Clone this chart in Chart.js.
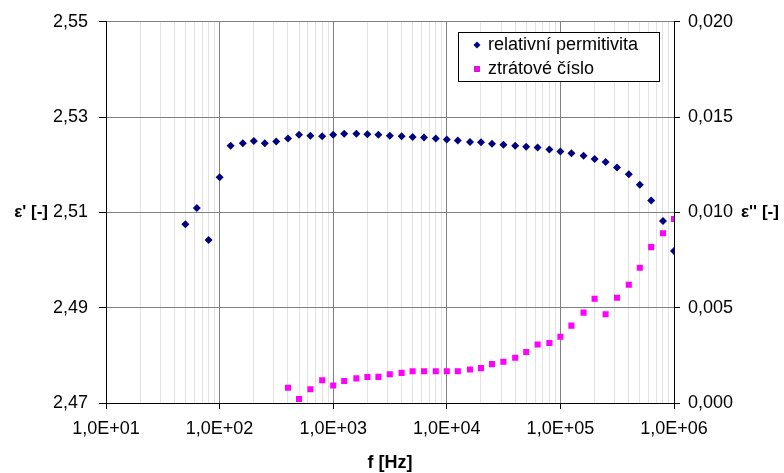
<!DOCTYPE html>
<html>
<head>
    <title>Permitivita</title>
    <script src="https://cdn.jsdelivr.net/npm/chart.js@4.4.0/dist/chart.umd.min.js"></script>
    <style>
        body { margin: 0; background: #ffffff; }
        canvas { display: block; }
    </style>
</head>
<body>
<canvas id="permChart" width="784" height="473"></canvas>
<script>
    // frekvence [Hz]
    const freq = [50, 63, 80,
        100, 125, 160, 200, 250, 315, 400, 500, 630, 800,
        1000, 1250, 1600, 2000, 2500, 3150, 4000, 5000, 6300, 8000,
        10000, 12500, 16000, 20000, 25000, 31500, 40000, 50000, 63000, 80000,
        100000, 125000, 160000, 200000, 250000, 315000, 400000, 500000, 630000, 800000,
        1000000];

    // relativni permitivita eps'
    const permitivita = [2.5075, 2.5109, 2.5042,
        2.5174, 2.5240, 2.5245, 2.5250, 2.5245, 2.5249, 2.5255, 2.5263, 2.5261, 2.5260,
        2.5263, 2.5265, 2.5265, 2.5264, 2.5263, 2.5261, 2.5260, 2.5258, 2.5257, 2.5255,
        2.5253, 2.5251, 2.5248, 2.5247, 2.5244, 2.5242, 2.5240, 2.5238, 2.5236, 2.5232,
        2.5228, 2.5224, 2.5219, 2.5212, 2.5206, 2.5194, 2.5180, 2.5158, 2.5125, 2.5082,
        2.5019];

    // ztratove cislo eps'' (mereno az od 400 Hz)
    const lossFreq = [400, 500, 630, 800,
        1000, 1250, 1600, 2000, 2500, 3150, 4000, 5000, 6300, 8000,
        10000, 12500, 16000, 20000, 25000, 31500, 40000, 50000, 63000, 80000,
        100000, 125000, 160000, 200000, 250000, 315000, 400000, 500000, 630000, 800000,
        1000000];
    const ztratoveCislo = [0.00080, 0.00021, 0.00072, 0.00119,
        0.00092, 0.00115, 0.00129, 0.00136, 0.00137, 0.00151, 0.00158, 0.00167, 0.00167, 0.00167,
        0.00167, 0.00167, 0.00176, 0.00183, 0.00204, 0.00216, 0.00237, 0.00268, 0.00307, 0.00315,
        0.00348, 0.00406, 0.00474, 0.00547, 0.00466, 0.00552, 0.00620, 0.00710, 0.00818, 0.00891,
        0.00965];

    // osy
    const xDecades = [10, 100, 1000, 10000, 100000, 1000000];
    const xTickLabels = ['1,0E+01', '1,0E+02', '1,0E+03', '1,0E+04', '1,0E+05', '1,0E+06'];
    const yLeftTicks = [2.47, 2.49, 2.51, 2.53, 2.55];
    const yLeftLabels = ['2,47', '2,49', '2,51', '2,53', '2,55'];
    const yRightTicks = [0, 0.005, 0.010, 0.015, 0.020];
    const yRightLabels = ['0,000', '0,005', '0,010', '0,015', '0,020'];

    const FONT = 'Liberation Sans, Arial, sans-serif';

    function isDecade(v) {
        return xDecades.some(d => Math.abs(v - d) < d * 1e-6);
    }

    // popisky os + legenda uvnitr grafu
    const extrasPlugin = {
        id: 'extras',
        afterDraw(chart) {
            const c = chart.ctx;
            c.save();
            c.fillStyle = '#000';
            c.font = 'bold 17px ' + FONT;
            c.textBaseline = 'middle';
            c.textAlign = 'right';
            c.fillText("ε' [-]", 48, 212);
            c.textAlign = 'left';
            c.fillText("ε'' [-]", 741, 212);
            c.font = 'bold 18px ' + FONT;
            c.textAlign = 'center';
            c.fillText('f [Hz]', 390, 463);

            // legenda
            c.fillStyle = '#fff';
            c.fillRect(458.5, 32.5, 201, 49);
            c.strokeStyle = '#000';
            c.lineWidth = 1;
            c.strokeRect(458.5, 32.5, 201, 49);
            c.font = '18px ' + FONT;
            c.textAlign = 'left';
            chart.data.datasets.forEach((ds, i) => {
                const y = 45 + i * 24;
                Chart.helpers.drawPoint(c, {
                    pointStyle: ds.pointStyle,
                    radius: ds.pointRadius - 0.5,
                    borderWidth: 0,
                    rotation: 0
                }, 477, y);
                c.fillStyle = ds.backgroundColor;
                c.fill();
                c.fillStyle = '#000';
                c.fillText(ds.label, 488, y);
            });
            c.restore();
        }
    };

    let ctx = document.getElementById('permChart').getContext('2d');

    let chart = new Chart(ctx, {
        type: 'scatter',
        data: {
            datasets: [{
                label: 'relativní permitivita',
                data: freq.map((f, i) => ({x: f, y: permitivita[i]})),
                yAxisID: 'y1',
                pointStyle: 'rectRot',
                pointRadius: 4,
                borderWidth: 0,
                backgroundColor: '#000080',
                borderColor: '#000080'
            }, {
                label: 'ztrátové číslo',
                data: lossFreq.map((f, i) => ({x: f, y: ztratoveCislo[i]})),
                yAxisID: 'y2',
                pointStyle: 'rect',
                pointRadius: 4.3,
                borderWidth: 0,
                backgroundColor: '#ff00ff',
                borderColor: '#ff00ff'
            }]
        },
        options: {
            responsive: false,
            animation: false,
            events: [],
            layout: {
                padding: {top: 20, left: 0, right: 0, bottom: 0}
            },
            plugins: {
                legend: {display: false},
                tooltip: {enabled: false}
            },
            scales: {
                x: {
                    type: 'logarithmic',
                    min: 10,
                    max: 1000000,
                    afterBuildTicks: scale => {
                        let t = [];
                        xDecades.forEach((d, i) => {
                            t.push({value: d, major: true});
                            if (i < xDecades.length - 1) {
                                for (let m = 2; m < 10; m++) t.push({value: m * d, major: false});
                            }
                        });
                        scale.ticks = t;
                    },
                    afterFit: scale => { scale.height = 70; },
                    ticks: {
                        autoSkip: false,
                        maxRotation: 0,
                        padding: 9,
                        color: '#000',
                        font: {family: FONT, size: 18},
                        callback: function (value) {
                            let i = xDecades.findIndex(d => Math.abs(value - d) < d * 1e-6);
                            return i >= 0 ? xTickLabels[i] : '';
                        }
                    },
                    grid: {
                        color: c => (c.tick && isDecade(c.tick.value)) ? '#808080' : '#e2e2e2',
                        tickColor: c => (c.tick && isDecade(c.tick.value)) ? '#000' : 'rgba(0,0,0,0)',
                        tickLength: 6
                    },
                    border: {color: '#000', width: 1}
                },
                y1: {
                    type: 'linear',
                    position: 'left',
                    min: 2.47,
                    max: 2.55,
                    afterBuildTicks: scale => {
                        scale.ticks = yLeftTicks.map(v => ({value: v}));
                    },
                    afterFit: scale => { scale.width = 106; },
                    ticks: {
                        padding: 11,
                        color: '#000',
                        font: {family: FONT, size: 18},
                        callback: function (value) {
                            let i = yLeftTicks.findIndex(v => Math.abs(v - value) < 1e-6);
                            return i >= 0 ? yLeftLabels[i] : '';
                        }
                    },
                    grid: {
                        color: '#808080',
                        tickColor: '#000',
                        tickLength: 7
                    },
                    border: {color: '#000', width: 1}
                },
                y2: {
                    type: 'linear',
                    position: 'right',
                    min: 0,
                    max: 0.02,
                    afterBuildTicks: scale => {
                        scale.ticks = yRightTicks.map(v => ({value: v}));
                    },
                    afterFit: scale => { scale.width = 110; },
                    ticks: {
                        padding: 8,
                        color: '#000',
                        font: {family: FONT, size: 18},
                        callback: function (value) {
                            let i = yRightTicks.findIndex(v => Math.abs(v - value) < 1e-7);
                            return i >= 0 ? yRightLabels[i] : '';
                        }
                    },
                    grid: {
                        drawOnChartArea: false,
                        tickColor: '#000',
                        tickLength: 6
                    },
                    border: {color: '#000', width: 1}
                }
            }
        },
        plugins: [extrasPlugin]
    });
</script>
</body>
</html>
